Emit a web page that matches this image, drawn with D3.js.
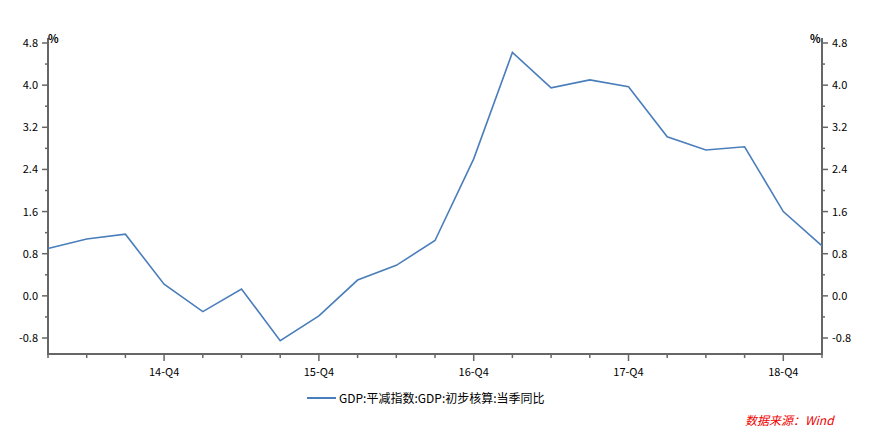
<!DOCTYPE html><html><head><meta charset="utf-8"><script src="https://cdn.jsdelivr.net/npm/d3@7"></script>
<style>body{margin:0;background:#fff}</style></head><body><svg id="c" width="869" height="433"></svg><script>
const quarters=["14-Q1","14-Q2","14-Q3","14-Q4","15-Q1","15-Q2","15-Q3","15-Q4","16-Q1","16-Q2","16-Q3","16-Q4","17-Q1","17-Q2","17-Q3","17-Q4","18-Q1","18-Q2","18-Q3","18-Q4","19-Q1"];
const values=[0.9,1.08,1.17,0.22,-0.3,0.13,-0.85,-0.38,0.3,0.58,1.05,2.6,4.62,3.95,4.1,3.97,3.02,2.77,2.83,1.6,0.95];
const yTicks=[-0.8,0,0.8,1.6,2.4,3.2,4.0,4.8];
const seriesName="GDP:平减指数:GDP:初步核算:当季同比";
const svg=d3.select("#c"),f="Noto Sans CJK SC, sans-serif",ax="#666";
const x=d3.scalePoint().domain(quarters).range([48,822]);
const y=d3.scaleLinear().domain([-0.8,4.8]).range([338,43]);
const g=svg.append("g");
// axes lines
g.append("line").attr("x1",48).attr("x2",48).attr("y1",38).attr("y2",354).attr("stroke",ax).attr("stroke-width",2);
g.append("line").attr("x1",822).attr("x2",822).attr("y1",38).attr("y2",354).attr("stroke",ax).attr("stroke-width",2);
g.append("line").attr("x1",47).attr("x2",823).attr("y1",354).attr("y2",354).attr("stroke",ax).attr("stroke-width",2);
const minor=d3.range(-0.8,5.0,0.4);
minor.forEach(v=>{const major=yTicks.some(t=>Math.abs(t-v)<1e-6);const L=major?6:3;
 g.append("line").attr("x1",48-L).attr("x2",48).attr("y1",y(v)).attr("y2",y(v)).attr("stroke",ax).attr("stroke-width",1.5);
 g.append("line").attr("x1",822).attr("x2",822+L).attr("y1",y(v)).attr("y2",y(v)).attr("stroke",ax).attr("stroke-width",1.5);});
yTicks.forEach(v=>{
 g.append("text").attr("x",38).attr("y",y(v)+4).attr("text-anchor","end").attr("font-family",f).attr("font-size",11).text(v.toFixed(1));
 g.append("text").attr("x",832).attr("y",y(v)+4).attr("font-family",f).attr("font-size",11).text(v.toFixed(1));});
g.append("text").attr("x",48).attr("y",43).attr("font-family",f).attr("font-size",11).attr("font-weight","bold").text("%");
g.append("text").attr("x",810).attr("y",43).attr("font-family",f).attr("font-size",11).attr("font-weight","bold").text("%");
quarters.forEach(q=>{const major=q.endsWith("Q4");
 g.append("line").attr("x1",x(q)).attr("x2",x(q)).attr("y1",354).attr("y2",major?361:358).attr("stroke",ax).attr("stroke-width",1.5);
 if(major)g.append("text").attr("x",x(q)).attr("y",376).attr("text-anchor","middle").attr("font-family",f).attr("font-size",11).text(q);});
g.append("path").datum(values).attr("fill","none").attr("stroke","#4a7ebb").attr("stroke-width",1.6)
 .attr("d",d3.line().x((d,i)=>x(quarters[i])).y(d=>y(d)));
g.append("line").attr("x1",307).attr("x2",336).attr("y1",398).attr("y2",398).attr("stroke","#4a7ebb").attr("stroke-width",2);
g.append("text").attr("x",339).attr("y",403).attr("font-family",f).attr("font-size",12).text(seriesName);
g.append("text").attr("x",745).attr("y",425).attr("font-family",f).attr("font-size",12).attr("font-style","italic").attr("fill","#e00").text("数据来源：Wind");
</script></body></html>
